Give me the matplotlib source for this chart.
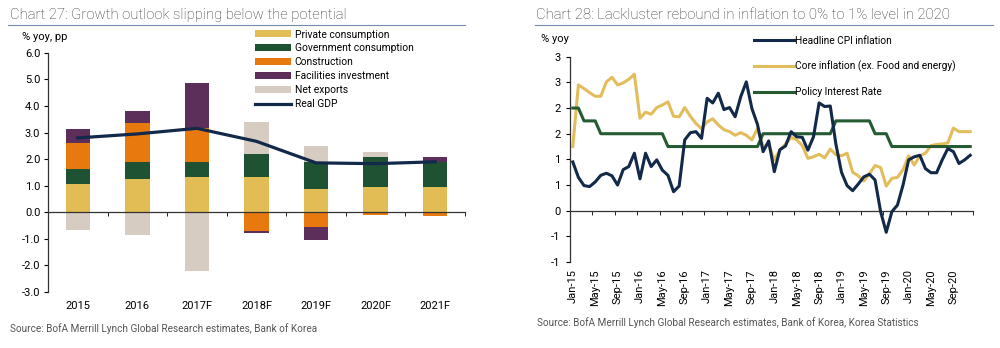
import numpy as np
import matplotlib
matplotlib.use("Agg")
import matplotlib.pyplot as plt
from matplotlib.lines import Line2D

plt.rcParams['font.family'] = ['Roboto', 'DejaVu Sans']

# ---- Chart 27: growth contributions (pp) ----
years = ['2015', '2016', '2017F', '2018F', '2019F', '2020F', '2021F']
private = [1.08, 1.25, 1.34, 1.34, 0.89, 0.97, 0.95]
government = [0.54, 0.66, 0.57, 0.86, 1.02, 1.12, 0.94]
construction = [0.99, 1.45, 1.25, -0.69, -0.55, -0.12, -0.15]
facilities = [0.54, 0.47, 1.71, -0.09, -0.51, 0.0, 0.19]
net_exports = [-0.66, -0.86, -2.20, 1.18, 0.58, 0.17, 0.0]
real_gdp = [2.80, 2.95, 3.16, 2.67, 1.86, 1.83, 1.90]
left_yticks = [-3, -2, -1, 0, 1, 2, 3, 4, 5, 6]

# ---- Chart 28: monthly, Jan-15 .. Dec-20 (% yoy) ----
headline = [0.95, 0.65, 0.49, 0.47, 0.56, 0.69, 0.73, 0.68, 0.50, 0.80, 0.86, 1.12,
            0.62, 1.12, 0.86, 0.99, 0.79, 0.69, 0.37, 0.48, 1.38, 1.52, 1.54, 1.41,
            2.19, 2.10, 2.29, 1.97, 2.01, 1.83, 2.22, 2.51, 1.99, 1.68, 1.15, 1.36,
            0.76, 1.19, 1.26, 1.54, 1.44, 1.43, 1.18, 1.44, 2.10, 2.03, 2.04, 1.30,
            0.75, 0.49, 0.39, 0.52, 0.66, 0.71, 0.60, -0.02, -0.42, -0.02, 0.11, 0.50,
            0.99, 1.05, 1.08, 0.82, 0.74, 0.74, 0.99, 1.21, 1.15, 0.92, 0.99, 1.08]
core = [1.25, 2.45, 2.38, 2.30, 2.23, 2.23, 2.51, 2.60, 2.45, 2.49, 2.56, 2.66,
        1.80, 1.92, 1.88, 2.01, 2.06, 2.12, 1.84, 1.83, 2.01, 1.84, 1.70, 1.60,
        1.73, 1.79, 1.67, 1.58, 1.54, 1.47, 1.52, 1.47, 1.38, 1.60, 1.25, 1.28,
        0.99, 1.18, 1.30, 1.43, 1.38, 1.27, 1.02, 1.05, 1.10, 1.03, 1.20, 1.09,
        1.07, 1.12, 0.75, 0.68, 0.58, 0.72, 0.88, 0.84, 0.48, 0.63, 0.65, 0.80,
        1.07, 0.89, 1.07, 1.12, 1.27, 1.29, 1.30, 1.32, 1.61, 1.54, 1.54, 1.54]
policy = [2.0, 2.0, 1.75, 1.75, 1.75] + [1.5] * 12 + [1.25] * 17 + [1.5] * 13 \
         + [1.75] * 7 + [1.5] * 3 + [1.25] * 15
month_labels = ['Jan-15', 'May-15', 'Sep-15', 'Jan-16', 'May-16', 'Sep-16',
                'Jan-17', 'May-17', 'Sep-17', 'Jan-18', 'May-18', 'Sep-18',
                'Jan-19', 'May-19', 'Sep-19', 'Jan-20', 'May-20', 'Sep-20']
right_yticks = [-1, -0.5, 0, 0.5, 1, 1.5, 2, 2.5, 3]
right_ylabels = ['-1', '-1', '0', '1', '1', '2', '2', '3', '3']

c_private = '#E2BC55'
c_gov = '#1F5233'
c_constr = '#E8790F'
c_fac = '#5C2F5A'
c_nx = '#D6CCC2'
c_gdp = '#12294A'
c_core = '#E3BD5C'
c_policy = '#245B30'
c_rule = '#6F8CAE'

fig = plt.figure(figsize=(10, 3.48), dpi=100)

# ---------------- left chart ----------------
ax1 = fig.add_axes([0.048, 0.161, 0.417, 0.687])
x = np.arange(len(years))
comps = [(private, c_private, 'Private consumption'),
         (government, c_gov, 'Government consumption'),
         (construction, c_constr, 'Construction'),
         (facilities, c_fac, 'Facilities investment'),
         (net_exports, c_nx, 'Net exports')]
pos_base = np.zeros(len(years))
neg_base = np.zeros(len(years))
handles = []
for vals, col, lab in comps:
    v = np.array(vals)
    base = np.where(v >= 0, pos_base, neg_base)
    b = ax1.bar(x, v, 0.41, bottom=base, color=col, label=lab, zorder=2)
    handles.append(b)
    pos_base = pos_base + np.where(v > 0, v, 0)
    neg_base = neg_base + np.where(v < 0, v, 0)
gdp_line, = ax1.plot(x, real_gdp, color=c_gdp, lw=2.3, label='Real GDP', zorder=3)
handles.append(gdp_line)

ax1.set_xlim(-0.5, len(years) - 0.5)
ax1.set_ylim(-3, 6)
ax1.set_yticks(left_yticks)
ax1.set_yticklabels([f'{v:.1f}' for v in left_yticks])
for s in ['top', 'right']:
    ax1.spines[s].set_visible(False)
ax1.spines['bottom'].set_position(('data', 0))
ax1.spines['bottom'].set_zorder(4)
ax1.set_xticks(x)
ax1.set_xticklabels(years)
ax1.set_xticks(np.arange(-0.5, len(years)), minor=True)
ax1.tick_params(axis='x', which='major', length=0, pad=64, labelsize=8)
ax1.tick_params(axis='x', which='minor', length=3, direction='out')
ax1.tick_params(axis='y', length=3, pad=2.5, labelsize=8)
for s in ['left', 'bottom']:
    ax1.spines[s].set_color('#333333')
    ax1.spines[s].set_linewidth(0.9)

fig.legend(handles, [h.get_label() for h in handles], loc='upper left',
           bbox_to_anchor=(0.255, 1 - 29.5 / 348), frameon=False, fontsize=7.4,
           handlelength=3.55, handleheight=0.65, labelspacing=0.38,
           handletextpad=0.3, borderpad=0, borderaxespad=0)

# ---------------- right chart ----------------
ax2 = fig.add_axes([0.570, 0.247, 0.403, 0.590])
mx = np.arange(len(headline)) + 0.5
h1, = ax2.plot(mx, headline, color=c_gdp, lw=2.2, label='Headline CPI inflation', zorder=3)
h2, = ax2.plot(mx, core, color=c_core, lw=2.2, label='Core inflation (ex. Food and energy)', zorder=2)
h3, = ax2.plot(mx, policy, color=c_policy, lw=2.2, label='Policy Interest Rate', zorder=2)
ax2.set_xlim(0, 72)
ax2.set_ylim(-1, 3)
ax2.set_yticks(right_yticks)
ax2.set_yticklabels(right_ylabels)
for s in ['top', 'right']:
    ax2.spines[s].set_visible(False)
ax2.spines['bottom'].set_position(('data', 0))
ax2.set_xticks(np.arange(0, 4 * len(month_labels), 4) + 0.5)
ax2.set_xticklabels(month_labels, rotation=90)
ax2.set_xticks(np.arange(0, 73, 4), minor=True)
ax2.tick_params(axis='x', which='major', length=0, pad=42, labelsize=8)
ax2.tick_params(axis='x', which='minor', length=3, direction='out')
ax2.tick_params(axis='y', length=3, pad=4, labelsize=8)
for s in ['left', 'bottom']:
    ax2.spines[s].set_color('#333333')
    ax2.spines[s].set_linewidth(0.9)

fig.legend([h1, h2, h3], [h.get_label() for h in (h1, h2, h3)], loc='upper left',
           bbox_to_anchor=(0.754, 1 - 35.5 / 348), frameon=False, fontsize=7.3,
           handlelength=3.9, labelspacing=1.5, handletextpad=0.15,
           borderpad=0, borderaxespad=0)

# ---------------- titles, rules, notes ----------------
fig.text(0.010, 1 - 15 / 348, 'Chart 27: Growth outlook slipping below the potential',
         fontsize=10.7, color='#333333', va='center', fontweight='light')
fig.text(0.536, 1 - 15 / 348, 'Chart 28: Lackluster rebound in inflation to 0% to 1% level in 2020',
         fontsize=10.7, color='#333333', va='center', fontweight='light')
fig.add_artist(Line2D([0.008, 0.465], [1 - 24.5 / 348] * 2, color=c_rule, lw=0.8))
fig.add_artist(Line2D([0.535, 0.993], [1 - 24.5 / 348] * 2, color=c_rule, lw=0.8))
fig.text(0.022, 1 - 37 / 348, '% yoy, pp', fontsize=8, va='center')
fig.text(0.541, 1 - 39 / 348, '% yoy', fontsize=8, va='center')
fig.text(0.010, 1 - 329 / 348, 'Source: BofA Merrill Lynch Global Research estimates, Bank of Korea',
         fontsize=7.2, color='#555555', va='center')
fig.text(0.537, 1 - 323 / 348,
         'Source: BofA Merrill Lynch Global Research estimates, Bank of Korea, Korea Statistics',
         fontsize=7.2, color='#555555', va='center')

fig.savefig('out.png', dpi=100)
